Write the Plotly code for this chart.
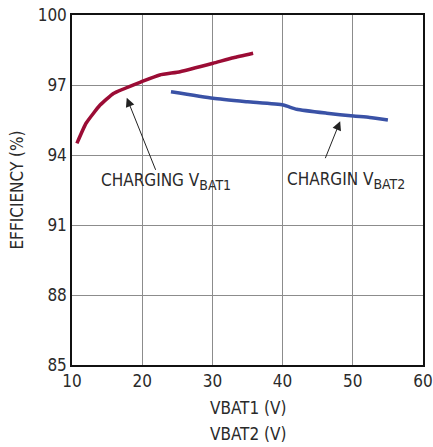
import plotly.graph_objects as go

# charging VBAT1 curve
vbat1 = [10.7, 12.0, 14.0, 15.9, 19.9, 22.5, 25.4, 30.1, 33.0, 35.8]
eff1 = [94.5, 95.36, 96.14, 96.64, 97.14, 97.43, 97.57, 97.93, 98.17, 98.36]

# charging VBAT2 curve
vbat2 = [24.1, 30.1, 35.0, 40.1, 42.0, 46.3, 50.1, 52.4, 55.0]
eff2 = [96.71, 96.43, 96.28, 96.14, 95.96, 95.79, 95.67, 95.61, 95.5]

x_ticks = [10, 20, 30, 40, 50, 60]
y_ticks = [85, 88, 91, 94, 97, 100]

FONT = "DejaVu Sans Condensed, Roboto, sans-serif"
TXT = "#2a2a2a"

fig = go.Figure()

fig.add_trace(go.Scatter(
    x=vbat1, y=eff1, mode="lines",
    line=dict(color="#9b0c35", width=3.5, shape="spline", smoothing=0.4),
    showlegend=False, name="VBAT1"
))
fig.add_trace(go.Scatter(
    x=vbat2, y=eff2, mode="lines",
    line=dict(color="#3a52a6", width=3.5, shape="spline", smoothing=0.5),
    showlegend=False, name="VBAT2"
))

# labels with arrows
fig.add_annotation(
    x=17.8, y=96.45, ax=22.0, ay=93.3, axref="x", ayref="y",
    xref="x", yref="y", text="", showarrow=True,
    arrowhead=2, arrowsize=1.8, arrowwidth=1, arrowcolor="#222"
)
fig.add_annotation(
    x=23.4, y=92.85, xref="x", yref="y",
    text="CHARGING V<sub><span style='font-size:14px'>BAT1</span></sub>",
    showarrow=False, font=dict(size=17, color=TXT, family=FONT)
)
fig.add_annotation(
    x=48.2, y=95.45, ax=46.0, ay=93.8, axref="x", ayref="y",
    xref="x", yref="y", text="",
    showarrow=True, arrowhead=2, arrowsize=1.8, arrowwidth=1, arrowcolor="#222"
)
fig.add_annotation(
    x=49.0, y=92.9, xref="x", yref="y",
    text="CHARGIN V<sub><span style='font-size:14px'>BAT2</span></sub>",
    showarrow=False, font=dict(size=17, color=TXT, family=FONT)
)

# x axis titles (two lines)
fig.add_annotation(
    x=0.5, y=-0.123, xref="paper", yref="paper", text="VBAT1 (V)",
    showarrow=False, yanchor="middle", font=dict(size=17, color=TXT, family=FONT)
)
fig.add_annotation(
    x=0.5, y=-0.198, xref="paper", yref="paper", text="VBAT2 (V)",
    showarrow=False, yanchor="middle", font=dict(size=17, color=TXT, family=FONT)
)

fig.update_xaxes(
    range=[10, 60], tickvals=x_ticks, showgrid=True, gridcolor="#8c8c8c",
    gridwidth=1, showline=True, linecolor="#111", linewidth=1.5, mirror=True,
    zeroline=False, ticks="", automargin=False,
    tickfont=dict(size=17, color=TXT, family=FONT)
)
fig.update_yaxes(
    range=[85, 100], tickvals=y_ticks, showgrid=True, gridcolor="#8c8c8c",
    gridwidth=1, showline=True, linecolor="#111", linewidth=1.5, mirror=True,
    zeroline=False, ticks="", automargin=False,
    tickfont=dict(size=17, color=TXT, family=FONT),
    title=dict(text="EFFICIENCY (%)", font=dict(size=17, color=TXT, family=FONT), standoff=10)
)

fig.update_layout(
    width=433, height=447,
    margin=dict(l=72, r=10, t=15, b=82),
    plot_bgcolor="white", paper_bgcolor="white",
    font=dict(family=FONT)
)

fig.write_html(
    "out.html",
    config={"displayModeBar": False},
    post_script="document.body.style.margin='0';document.body.style.overflow='hidden';"
)
